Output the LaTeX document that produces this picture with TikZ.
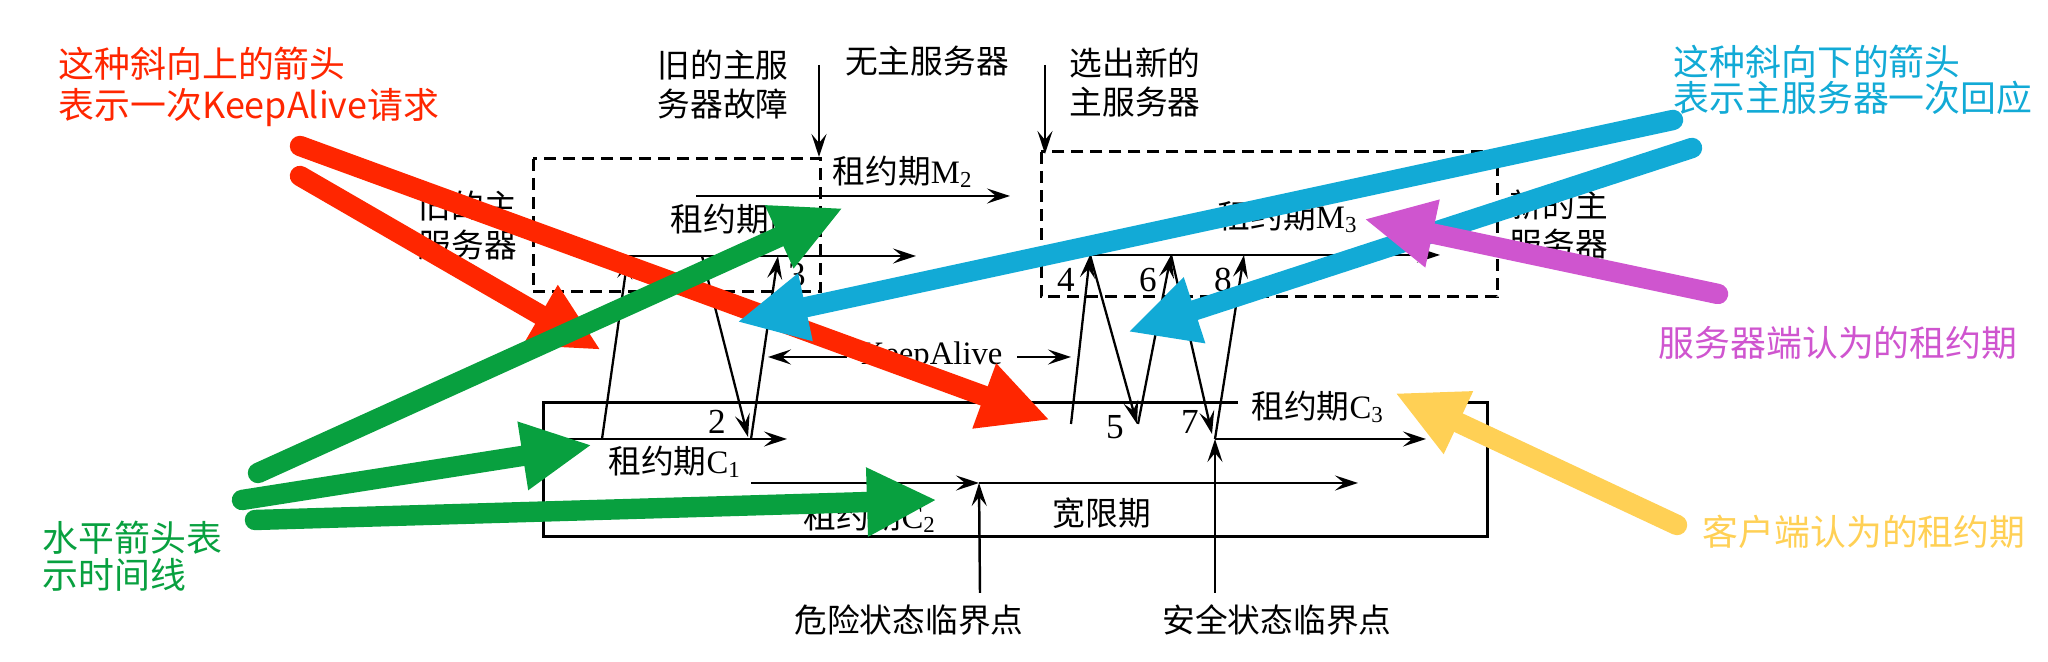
\documentclass[tikz,border=0pt]{standalone}
\usepackage{fontspec}
\setmainfont{Liberation Serif}
\newfontfamily\cjk{Noto Sans CJK SC}
\usetikzlibrary{arrows.meta}
\definecolor{notered}{HTML}{FF2600}
\definecolor{notegreen}{HTML}{08A03F}
\definecolor{noteblue}{HTML}{12AAD6}
\definecolor{notepurple}{HTML}{CF55CF}
\definecolor{noteyellow}{HTML}{FFD055}

\newcommand{\lease}[2]{{\cjk 租约期}#1\textsubscript{#2}}

\begin{document}
\begin{tikzpicture}[
  x=0.01cm, y=-0.01cm,
  >={Stealth[length=2.3mm, width=1.5mm, inset=0.9mm]},
  tline/.style={line width=0.7pt, ->},
  msg/.style={line width=0.65pt, ->},
  dashbox/.style={draw, line width=0.85pt, dash pattern=on 1.2mm off 0.7mm},
  clientbox/.style={draw, line width=0.85pt},
  lbl/.style={font=\fontsize{9.3pt}{11.1pt}\selectfont, inner sep=1pt, align=center},
  cjklbl/.style={lbl, font=\fontsize{9.3pt}{11.1pt}\selectfont\cjk},
  num/.style={font=\fontsize{10pt}{12pt}\selectfont, inner sep=0pt},
  note/.style={font=\fontsize{10.2pt}{10.4pt}\selectfont\cjk, align=left, anchor=west, inner sep=0pt},
  pointer/.style={line width=5.8pt, line cap=round, -{Triangle[length=7mm, width=6.4mm]}},
]
\useasboundingbox (0,0) rectangle (2048,662);

% ---------- master boxes and client box ----------
\draw[dashbox] (533,159) rectangle (820,292);
\draw[dashbox] (1041,152) rectangle (1497,297);
\draw[clientbox] (1238,403) -- (543,403) -- (543,537) -- (1487,537) -- (1487,403) -- (1437,403);

% ---------- labels ----------
\node[cjklbl] (oldsrv) at (468,226) {旧的主\\服务器};
\node[cjklbl] (newsrv) at (1559,225) {新的主\\服务器};
\node[cjklbl] (fail)   at (723,85)  {旧的主服\\务器故障};
\node[cjklbl] (nosrv)  at (927,61)  {无主服务器};
\node[cjklbl] (elect)  at (1135,83) {选出新的\\主服务器};
\node[lbl] (lm1) at (741,220) {\lease{M}{1}};
\node[lbl] (lm2) at (903,172) {\lease{M}{2}};
\node[lbl] (lm3) at (1288,217) {\lease{M}{3}};
\node[lbl] (lc1) at (675,462) {\lease{C}{1}};
\node[lbl] (lc2) at (870,517) {\lease{C}{2}};
\node[lbl] (lc3) at (1318,407) {\lease{C}{3}};
\node[cjklbl] (grace) at (1102,513) {宽限期};
\node[cjklbl] (danger) at (909,620) {危险状态临界点};
\node[cjklbl] (safe)   at (1277,620) {安全状态临界点};

% ---------- timelines ----------
\coordinate (m1s) at (628,256);  \coordinate (m1e) at (916,256);
\coordinate (m2s) at (696,196);  \coordinate (m2e) at (1010,196);
\coordinate (m3s) at (1089,255); \coordinate (m3e) at (1440,255);
\coordinate (c1s) at (567,439);  \coordinate (c1e) at (787,439);
\coordinate (c2s) at (751,483);  \coordinate (c2d) at (979,483);
\coordinate (c2e) at (1358,483);
\coordinate (c3s) at (1215,439); \coordinate (c3e) at (1426,439);
\draw[tline] (m1s) -- (m1e);
\draw[tline] (m2s) -- (m2e);
\draw[tline] (m3s) -- (m3e);
\draw[tline] (c1s) -- (c1e);
\draw[tline] (c2s) -- (c2d);
\draw[tline] (c2d) -- (c2e);
\draw[tline] (c3s) -- (c3e);

% ---------- event markers ----------
\coordinate (failtop)  at (819,65);  \coordinate (failbot)  at (819,157);
\coordinate (electtop) at (1045,65); \coordinate (electbot) at (1045,154);
\coordinate (dangerbot) at (980,593);
\coordinate (safebot)   at (1215,593);
\draw[tline] (failtop) -- (failbot);
\draw[tline] (electtop) -- (electbot);
\draw[tline] (dangerbot) -- (c2d);
\draw[tline] (safebot) -- (c3s);

% ---------- KeepAlive messages ----------
\coordinate (r1a) at (602,439);
\coordinate (q2a) at (702,256);  \coordinate (q2b) at (748,437);
\coordinate (r3a) at (751,439);  \coordinate (r3b) at (778,256);
\coordinate (r4a) at (1071,424); \coordinate (r4b) at (1090,255);
\coordinate (q5b) at (1137,424);
\coordinate (r6a) at (1138,424); \coordinate (r6b) at (1171,255);
\coordinate (q7b) at (1212,434);
\coordinate (r8b) at (1244,255);
\draw[msg] (r1a) -- (m1s);
\draw[msg] (q2a) -- (q2b);
\draw[msg] (r3a) -- (r3b);
\draw[msg] (r4a) -- (r4b);
\draw[msg] (r4b) -- (q5b);
\draw[msg] (r6a) -- (r6b);
\draw[msg] (r6b) -- (q7b);
\draw[msg] (c3s) -- (r8b);

\node[num] (n2) at (717,422) {2};
\node[num] (n3) at (797,275) {3};
\node[num] (n4) at (1066,280) {4};
\node[num] (n5) at (1115,427) {5};
\node[num] (n6) at (1148,280) {6};
\node[num] (n7) at (1190,422) {7};
\node[num] (n8) at (1223,280) {8};

% keepalive interval
\coordinate (kal) at (768,357); \coordinate (kar) at (1071,357);
\draw[line width=0.65pt, <->] (kal) -- (kar)
  node[pos=0.54, lbl, fill=white, inner xsep=4pt] (ka) {KeepAlive};

% ---------- annotations ----------
\node[note, text=notered, font=\fontsize{10.2pt}{11.7pt}\selectfont\cjk] (redtxt) at (58,87)
  {这种斜向上的箭头\\表示一次KeepAlive请求};
\node[note, text=noteblue] (bluetxt) at (1673,80) {这种斜向下的箭头\\表示主服务器一次回应};
\node[note, text=notepurple] (purpletxt) at (1658,343) {服务器端认为的租约期};
\node[note, text=noteyellow] (yellowtxt) at (1702,532) {客户端认为的租约期};
\node[note, text=notegreen] (greentxt) at (42,556) {水平箭头表\\示时间线};

\coordinate (redA) at (300,146);  \coordinate (redAtip) at (1050,420);
\coordinate (redB) at (300,176);  \coordinate (redBtip) at (601,350);
\coordinate (grnA) at (258,473);  \coordinate (grnAtip) at (843,208);
\coordinate (grnB) at (242,500);  \coordinate (grnBtip) at (592,445);
\coordinate (grnC) at (255,520);  \coordinate (grnCtip) at (937,500);
\coordinate (bluA) at (1673,120); \coordinate (bluAtip) at (737,322);
\coordinate (bluB) at (1692,148); \coordinate (bluBtip) at (1128,332);
\coordinate (purA) at (1718,294); \coordinate (purAtip) at (1364,219);
\coordinate (yelA) at (1677,525); \coordinate (yelAtip) at (1395,393);

\draw[pointer, notered] (redA) -- (redAtip);
\draw[pointer, notered] (redB) -- (redBtip);
\draw[pointer, notegreen] (grnA) -- (grnAtip);
\draw[pointer, notegreen] (grnB) -- (grnBtip);
\draw[pointer, notegreen] (grnC) -- (grnCtip);
\draw[pointer, noteblue] (bluA) -- (bluAtip);
\draw[pointer, noteblue] (bluB) -- (bluBtip);
\draw[pointer, notepurple] (purA) -- (purAtip);
\draw[pointer, noteyellow] (yelA) -- (yelAtip);

\end{tikzpicture}
\end{document}
